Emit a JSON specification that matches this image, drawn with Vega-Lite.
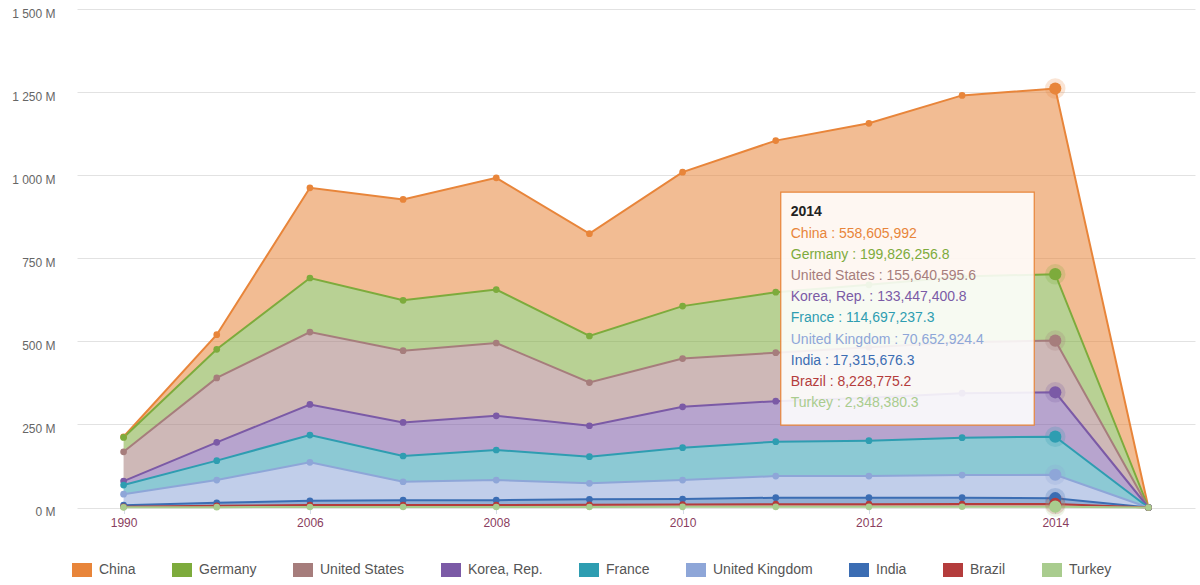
{
  "$schema": "https://vega.github.io/schema/vega-lite/v6.json",
  "width": 1118,
  "height": 498.5,
  "autosize": {"type": "none"},
  "padding": {"left": 77, "top": 9, "right": 5, "bottom": 77.5},
  "background": "white",
  "config": {
    "font": "Liberation Sans",
    "view": {"stroke": null},
    "legend": {"symbolOpacity": 1}
  },
  "datasets": {
    "main": [
      {"year": "1990", "series": "China", "value": 2},
      {"year": "2005", "series": "China", "value": 44},
      {"year": "2006", "series": "China", "value": 271.4},
      {"year": "2007", "series": "China", "value": 303.5},
      {"year": "2008", "series": "China", "value": 336.4},
      {"year": "2009", "series": "China", "value": 308},
      {"year": "2010", "series": "China", "value": 403},
      {"year": "2011", "series": "China", "value": 456},
      {"year": "2012", "series": "China", "value": 486},
      {"year": "2013", "series": "China", "value": 545},
      {"year": "2014", "series": "China", "value": 558.605992},
      {"year": "2015", "series": "China", "value": 0},
      {"year": "1990", "series": "Germany", "value": 43.4},
      {"year": "2005", "series": "Germany", "value": 86},
      {"year": "2006", "series": "Germany", "value": 162.6},
      {"year": "2007", "series": "Germany", "value": 151.5},
      {"year": "2008", "series": "Germany", "value": 160.6},
      {"year": "2009", "series": "Germany", "value": 140},
      {"year": "2010", "series": "Germany", "value": 158},
      {"year": "2011", "series": "Germany", "value": 182},
      {"year": "2012", "series": "Germany", "value": 188},
      {"year": "2013", "series": "Germany", "value": 198},
      {"year": "2014", "series": "Germany", "value": 199.8262568},
      {"year": "2015", "series": "Germany", "value": 0},
      {"year": "1990", "series": "United States", "value": 88},
      {"year": "2005", "series": "United States", "value": 194},
      {"year": "2006", "series": "United States", "value": 218},
      {"year": "2007", "series": "United States", "value": 216},
      {"year": "2008", "series": "United States", "value": 219},
      {"year": "2009", "series": "United States", "value": 130},
      {"year": "2010", "series": "United States", "value": 145},
      {"year": "2011", "series": "United States", "value": 146},
      {"year": "2012", "series": "United States", "value": 152},
      {"year": "2013", "series": "United States", "value": 153},
      {"year": "2014", "series": "United States", "value": 155.6405956},
      {"year": "2015", "series": "United States", "value": 0},
      {"year": "1990", "series": "Korea, Rep.", "value": 12},
      {"year": "2005", "series": "Korea, Rep.", "value": 55},
      {"year": "2006", "series": "Korea, Rep.", "value": 92},
      {"year": "2007", "series": "Korea, Rep.", "value": 101},
      {"year": "2008", "series": "Korea, Rep.", "value": 103},
      {"year": "2009", "series": "Korea, Rep.", "value": 93},
      {"year": "2010", "series": "Korea, Rep.", "value": 123},
      {"year": "2011", "series": "Korea, Rep.", "value": 122},
      {"year": "2012", "series": "Korea, Rep.", "value": 129},
      {"year": "2013", "series": "Korea, Rep.", "value": 134},
      {"year": "2014", "series": "Korea, Rep.", "value": 133.4474008},
      {"year": "2015", "series": "Korea, Rep.", "value": 0},
      {"year": "1990", "series": "France", "value": 27.5},
      {"year": "2005", "series": "France", "value": 58.5},
      {"year": "2006", "series": "France", "value": 82},
      {"year": "2007", "series": "France", "value": 77.5},
      {"year": "2008", "series": "France", "value": 90.4},
      {"year": "2009", "series": "France", "value": 80.3},
      {"year": "2010", "series": "France", "value": 97.4},
      {"year": "2011", "series": "France", "value": 103.4},
      {"year": "2012", "series": "France", "value": 106.4},
      {"year": "2013", "series": "France", "value": 112.4},
      {"year": "2014", "series": "France", "value": 114.6972373},
      {"year": "2015", "series": "France", "value": 0},
      {"year": "1990", "series": "United Kingdom", "value": 33},
      {"year": "2005", "series": "United Kingdom", "value": 68.5},
      {"year": "2006", "series": "United Kingdom", "value": 116},
      {"year": "2007", "series": "United Kingdom", "value": 55.5},
      {"year": "2008", "series": "United Kingdom", "value": 60.6},
      {"year": "2009", "series": "United Kingdom", "value": 48.1},
      {"year": "2010", "series": "United Kingdom", "value": 57.1},
      {"year": "2011", "series": "United Kingdom", "value": 65.1},
      {"year": "2012", "series": "United Kingdom", "value": 65.1},
      {"year": "2013", "series": "United Kingdom", "value": 68.1},
      {"year": "2014", "series": "United Kingdom", "value": 70.6529244},
      {"year": "2015", "series": "United Kingdom", "value": 0},
      {"year": "1990", "series": "India", "value": 5},
      {"year": "2005", "series": "India", "value": 9},
      {"year": "2006", "series": "India", "value": 12.5},
      {"year": "2007", "series": "India", "value": 14.5},
      {"year": "2008", "series": "India", "value": 14.5},
      {"year": "2009", "series": "India", "value": 16.6},
      {"year": "2010", "series": "India", "value": 16.5},
      {"year": "2011", "series": "India", "value": 19.5},
      {"year": "2012", "series": "India", "value": 19.5},
      {"year": "2013", "series": "India", "value": 19.1},
      {"year": "2014", "series": "India", "value": 17.3156763},
      {"year": "2015", "series": "India", "value": 0},
      {"year": "1990", "series": "Brazil", "value": 1.5},
      {"year": "2005", "series": "Brazil", "value": 4},
      {"year": "2006", "series": "Brazil", "value": 6},
      {"year": "2007", "series": "Brazil", "value": 6},
      {"year": "2008", "series": "Brazil", "value": 6},
      {"year": "2009", "series": "Brazil", "value": 6.5},
      {"year": "2010", "series": "Brazil", "value": 7},
      {"year": "2011", "series": "Brazil", "value": 8},
      {"year": "2012", "series": "Brazil", "value": 8},
      {"year": "2013", "series": "Brazil", "value": 8.2},
      {"year": "2014", "series": "Brazil", "value": 8.2287752},
      {"year": "2015", "series": "Brazil", "value": 0},
      {"year": "1990", "series": "Turkey", "value": 0.5},
      {"year": "2005", "series": "Turkey", "value": 1},
      {"year": "2006", "series": "Turkey", "value": 1.5},
      {"year": "2007", "series": "Turkey", "value": 1.5},
      {"year": "2008", "series": "Turkey", "value": 1.5},
      {"year": "2009", "series": "Turkey", "value": 1.5},
      {"year": "2010", "series": "Turkey", "value": 2},
      {"year": "2011", "series": "Turkey", "value": 2},
      {"year": "2012", "series": "Turkey", "value": 2},
      {"year": "2013", "series": "Turkey", "value": 2.2},
      {"year": "2014", "series": "Turkey", "value": 2.3483803},
      {"year": "2015", "series": "Turkey", "value": 0}
    ],
    "tip": [
      {"series": "China", "label": "China : 558,605,992", "anchor": "2011", "yv": 824},
      {"series": "Germany", "label": "Germany : 199,826,256.8", "anchor": "2011", "yv": 761},
      {"series": "United States", "label": "United States : 155,640,595.6", "anchor": "2011", "yv": 698},
      {"series": "Korea, Rep.", "label": "Korea, Rep. : 133,447,400.8", "anchor": "2011", "yv": 633},
      {"series": "France", "label": "France : 114,697,237.3", "anchor": "2011", "yv": 570},
      {"series": "United Kingdom", "label": "United Kingdom : 70,652,924.4", "anchor": "2011", "yv": 505},
      {"series": "India", "label": "India : 17,315,676.3", "anchor": "2011", "yv": 441},
      {"series": "Brazil", "label": "Brazil : 8,228,775.2", "anchor": "2011", "yv": 378},
      {"series": "Turkey", "label": "Turkey : 2,348,380.3", "anchor": "2011", "yv": 314}
    ],
    "tipbox": [
      {"x1": "2011", "x2": "2014", "top": 949, "bottom": 248, "title": "2014", "ty": 889}
    ]
  },
  "layer": [
    {
      "data": {"name": "main"},
      "transform": [
        {"calculate": "indexof(['Turkey','Brazil','India','United Kingdom','France','Korea, Rep.','United States','Germany','China'], datum.series)", "as": "rank"},
        {"stack": "value", "groupby": ["year"], "sort": [{"field": "rank", "order": "ascending"}], "as": ["y0", "y1"]}
      ],
      "encoding": {
        "x": {
          "field": "year", "type": "ordinal", "title": null,
          "scale": {"type": "point", "padding": 0.5},
          "axis": {
            "values": ["1990", "2006", "2008", "2010", "2012", "2014"],
            "labelAngle": 0, "labelFontSize": 12, "labelColor": "#8a3d5e",
            "domain": false, "ticks": true, "tickSize": 6, "tickColor": "#d4dbe8",
            "labelPadding": 4, "grid": false
          }
        },
        "y": {
          "field": "y1", "type": "quantitative", "title": null,
          "scale": {"domain": [0, 1500], "nice": false},
          "axis": {
            "values": [0, 250, 500, 750, 1000, 1250, 1500],
            "labelExpr": "replace(format(datum.value, ',d'), ',', ' ') + ' M'",
            "labelFontSize": 12, "labelColor": "#666666",
            "domain": false, "ticks": false, "labelPadding": 22, "labelOffset": 4,
            "gridColor": "#e2e2e2", "gridWidth": 1
          }
        },
        "color": {
          "field": "series", "type": "nominal",
          "scale": {
            "domain": ["China", "Germany", "United States", "Korea, Rep.", "France", "United Kingdom", "India", "Brazil", "Turkey"],
            "range": ["#e8853a", "#7dab3c", "#a67d7c", "#7b5aa6", "#2e9db1", "#8ea6d8", "#3b6db3", "#b43c3c", "#a9cc8e"]
          },
          "legend": {
            "title": null, "orient": "none", "legendX": -5, "legendY": 551,
            "direction": "horizontal", "columns": 9, "columnPadding": 36,
            "symbolType": "M-1,-0.7H1V0.7H-1Z", "symbolSize": 400, "symbolStrokeWidth": 0,
            "labelFontSize": 14, "labelColor": "#555555", "labelOffset": 7
          }
        }
      },
      "layer": [
        {"mark": {"type": "area", "opacity": 0.55}, "encoding": {"y2": {"field": "y0"}}},
        {"mark": {"type": "line", "strokeWidth": 2}},
        {"mark": {"type": "point", "filled": true, "size": 45, "opacity": 1}},
        {"transform": [{"filter": "datum.year == '2014'"}], "mark": {"type": "point", "filled": true, "size": 420, "opacity": 0.22}},
        {"transform": [{"filter": "datum.year == '2014'"}], "mark": {"type": "point", "filled": true, "size": 150, "opacity": 1}}
      ]
    },
    {
      "data": {"name": "tipbox"},
      "mark": {"type": "rect", "fill": "#ffffff", "fillOpacity": 0.88, "stroke": "#e8853a", "strokeWidth": 1.2, "xOffset": 5, "x2Offset": -21},
      "encoding": {
        "x": {"field": "x1", "type": "ordinal", "title": null},
        "x2": {"field": "x2"},
        "y": {"field": "top", "type": "quantitative", "title": null},
        "y2": {"field": "bottom"}
      }
    },
    {
      "data": {"name": "tipbox"},
      "mark": {"type": "text", "align": "left", "baseline": "middle", "dx": 15, "fontSize": 14, "fontWeight": "bold", "color": "#222222"},
      "encoding": {
        "x": {"field": "x1", "type": "ordinal", "title": null},
        "y": {"field": "ty", "type": "quantitative", "title": null},
        "text": {"field": "title"}
      }
    },
    {
      "data": {"name": "tip"},
      "mark": {"type": "text", "align": "left", "baseline": "middle", "dx": 15, "fontSize": 14},
      "encoding": {
        "x": {"field": "anchor", "type": "ordinal", "title": null},
        "y": {"field": "yv", "type": "quantitative", "title": null},
        "text": {"field": "label"},
        "color": {"field": "series", "type": "nominal", "legend": null}
      }
    }
  ]
}
